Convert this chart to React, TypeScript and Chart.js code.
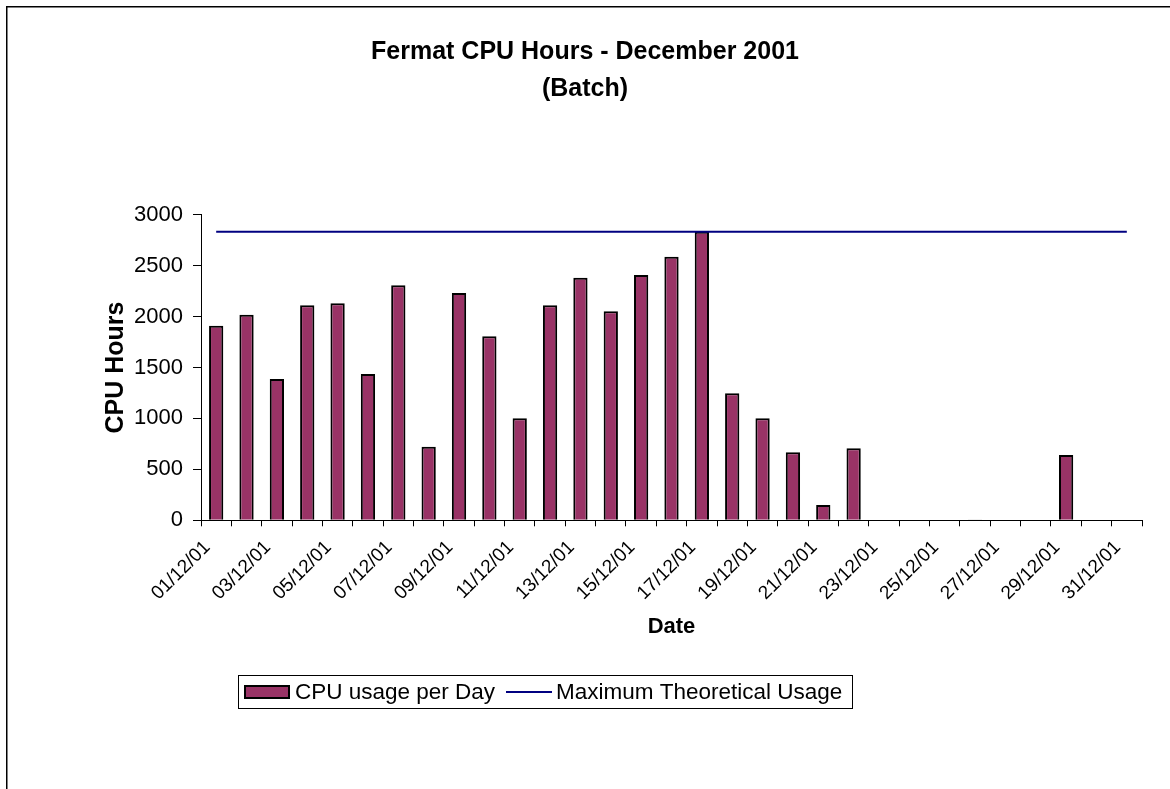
import React, { useEffect, useRef } from 'react';
import { Chart, registerables } from 'chart.js';

Chart.register(...registerables);

const days = [
  '01/12/01', '02/12/01', '03/12/01', '04/12/01', '05/12/01', '06/12/01', '07/12/01', '08/12/01',
  '09/12/01', '10/12/01', '11/12/01', '12/12/01', '13/12/01', '14/12/01', '15/12/01', '16/12/01',
  '17/12/01', '18/12/01', '19/12/01', '20/12/01', '21/12/01', '22/12/01', '23/12/01', '24/12/01',
  '25/12/01', '26/12/01', '27/12/01', '28/12/01', '29/12/01', '30/12/01', '31/12/01',
];

const cpuUsagePerDay = [
  1910, 2018, 1387, 2110, 2130, 1436, 2307, 723, 2231, 1806, 1001, 2110, 2382, 2051, 2408, 2588,
  2832, 1247, 1001, 667, 150, 707, 0, 0, 0, 8, 0, 0, 641, 0, 0,
];

const maxTheoreticalUsage = [
  2832, 2832, 2832, 2832, 2832, 2832, 2832, 2832, 2832, 2832, 2832, 2832, 2832, 2832, 2832, 2832,
  2832, 2832, 2832, 2832, 2832, 2832, 2832, 2832, 2832, 2832, 2832, 2832, 2832, 2832, 2832,
];

const yAxisMin = 0;
const yAxisMax = 3000;
const yAxisStep = 500;

const titleLines = ['Fermat CPU Hours - December 2001', '(Batch)'];
const seriesLabels = ['CPU usage per Day', 'Maximum Theoretical Usage'];

const FONT = '"Liberation Sans", Arial, Helvetica, sans-serif';
const BAR_COLOR = '#993366';
const LINE_COLOR = '#000080';

const frameAndLegend = {
  id: 'frameAndLegend',
  afterDraw(chart: any) {
    const ctx = chart.ctx as CanvasRenderingContext2D;
    ctx.save();
    // outer chart frame (top and left edges visible)
    ctx.strokeStyle = '#000';
    ctx.lineWidth = 1.5;
    ctx.beginPath();
    ctx.moveTo(6.75, chart.height);
    ctx.lineTo(6.75, 6.75);
    ctx.lineTo(chart.width, 6.75);
    ctx.stroke();

    // legend box
    const ds = chart.data.datasets;
    ctx.lineWidth = 1;
    ctx.strokeStyle = '#000';
    ctx.strokeRect(238.5, 675.5, 614, 33);

    // bar swatch
    ctx.fillStyle = ds[0].backgroundColor;
    ctx.fillRect(244, 685, 46, 14);
    ctx.lineWidth = 2;
    ctx.strokeStyle = '#000';
    ctx.strokeRect(245, 686, 44, 12);

    ctx.font = `22.5px ${FONT}`;
    ctx.textBaseline = 'middle';
    ctx.textAlign = 'left';
    ctx.fillStyle = '#000';
    ctx.fillText(ds[0].label, 295, 692.5);

    // line swatch
    ctx.strokeStyle = ds[1].borderColor;
    ctx.lineWidth = 2;
    ctx.beginPath();
    ctx.moveTo(506, 692);
    ctx.lineTo(552, 692);
    ctx.stroke();

    ctx.fillStyle = '#000';
    ctx.fillText(ds[1].label, 556, 692.5);
    ctx.restore();
  },
};

export default function App() {
  const canvasRef = useRef<HTMLCanvasElement | null>(null);

  useEffect(() => {
    if (!canvasRef.current) return;
    const chart = new Chart(canvasRef.current, {
      type: 'bar',
      data: {
        labels: days,
        datasets: [
          {
            type: 'bar',
            label: seriesLabels[0],
            data: cpuUsagePerDay,
            backgroundColor: BAR_COLOR,
            borderColor: '#000',
            borderWidth: 2,
            barPercentage: 0.47,
            categoryPercentage: 1,
            order: 2,
          },
          {
            type: 'line',
            label: seriesLabels[1],
            data: maxTheoreticalUsage,
            borderColor: LINE_COLOR,
            backgroundColor: LINE_COLOR,
            borderWidth: 2,
            pointRadius: 0,
            fill: false,
            tension: 0,
            order: 1,
          },
        ],
      } as any,
      options: {
        responsive: false,
        animation: false,
        devicePixelRatio: 1,
        layout: { padding: { left: 28, right: 28, top: 0, bottom: 0 } },
        plugins: {
          legend: { display: false },
          tooltip: { enabled: false },
          title: {
            display: true,
            text: titleLines,
            color: '#000',
            font: { family: FONT, size: 25, weight: 'bold', lineHeight: 37.2 / 25 },
            padding: { top: 33.65, bottom: 106.65 },
          },
        },
        scales: {
          x: {
            type: 'category',
            offset: true,
            grid: {
              display: true,
              offset: true,
              drawOnChartArea: false,
              drawTicks: true,
              tickLength: 6,
              color: '#000',
            },
            border: { display: true, color: '#000', width: 1 },
            ticks: {
              autoSkip: false,
              minRotation: 45,
              maxRotation: 45,
              padding: 10,
              labelOffset: -9,
              color: '#000',
              font: { family: FONT, size: 19 },
              callback: (_v: any, i: number) => (i % 2 === 0 ? days[i] : ''),
            },
            title: {
              display: true,
              text: 'Date',
              color: '#000',
              font: { family: FONT, size: 22, weight: 'bold', lineHeight: 1.2 },
              padding: { top: 0, bottom: 148.6 },
            },
            afterFit: (s: any) => {
              s.height = 268.7;
            },
          },
          y: {
            min: yAxisMin,
            max: yAxisMax,
            ticks: {
              stepSize: yAxisStep,
              padding: 10,
              color: '#000',
              font: { family: FONT, size: 22 },
              callback: (v: any) => String(v),
            },
            grid: {
              drawOnChartArea: false,
              drawTicks: true,
              tickLength: 8,
              color: '#000',
            },
            border: { display: true, color: '#000', width: 1 },
            title: {
              display: true,
              text: 'CPU Hours',
              color: '#000',
              font: { family: FONT, size: 25, weight: 'bold', lineHeight: 1.2 },
              padding: { top: 73, bottom: 0 },
            },
            afterFit: (s: any) => {
              s.width = 173;
            },
          },
        },
      } as any,
      plugins: [frameAndLegend],
    });
    return () => chart.destroy();
  }, []);

  return (
    <div
      style={{
        position: 'fixed',
        left: 0,
        top: 0,
        width: 1170,
        height: 789,
        background: '#fff',
        overflow: 'hidden',
      }}
    >
      <canvas ref={canvasRef} width={1170} height={789} style={{ display: 'block', width: 1170, height: 789 }} />
    </div>
  );
}
